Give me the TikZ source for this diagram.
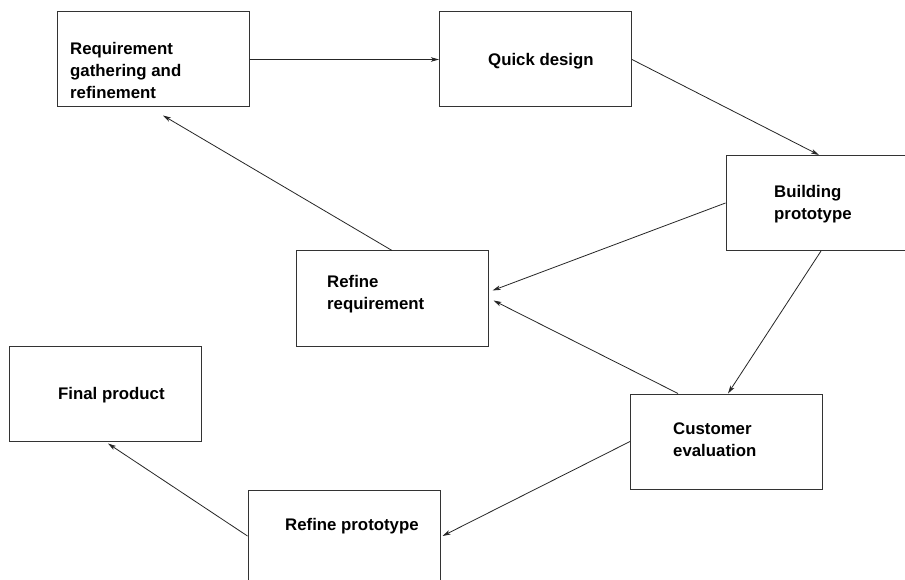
\documentclass[tikz,border=0pt]{standalone}
\usepackage{fontspec}
\setmainfont{Liberation Sans}
\usetikzlibrary{arrows.meta,calc}
\tikzset{
  box/.style={draw=black!80, line width=1pt, inner sep=0pt, minimum width=192pt, minimum height=95pt},
  lbl/.style={anchor=north west, inner sep=0pt, align=left, font=\fontsize{16.8}{22}\selectfont\bfseries},
  arr/.style={draw=black!85, line width=0.8pt, -{Stealth[length=8pt,width=4.5pt,inset=2pt]}}
}
\begin{document}
\begin{tikzpicture}[x=1pt,y=-1pt]
\useasboundingbox (0,0) rectangle (905,580);
\fill[white] (0,0) rectangle (905,580);
\clip (0,0) rectangle (905,580);
% boxes
\node[box] (req) at (153,59.5) {};
\node[box] (quick) at (535.5,59.5) {};
\node[box] (build) at (822,203) {};
\node[box] (refreq) at (392,298.5) {};
\node[box] (final) at (105.5,393.5) {};
\node[box] (cust) at (726.5,441.5) {};
\node[box] (refproto) at (344,538) {};
% labels
\node[lbl] (reqt) at (70,42) {Requirement\\gathering and\\refinement};
\node[lbl] (quickt) at (488,53) {Quick design};
\node[lbl] (buildt) at (774,185) {Building\\prototype};
\node[lbl] (refreqt) at (327,275) {Refine\\requirement};
\node[lbl] (finalt) at (58,387) {Final product};
\node[lbl] (custt) at (673,423) {Customer\\evaluation};
\node[lbl] (refprotot) at (285,518) {Refine prototype};
% connectors
\draw[arr] (req.east) -- (quick.west);
\draw[arr] (quick.east) -- ($(build.north)+(-3,0)$);
\draw[arr] (build.west) -- ($(refreq.east)+(4,-8)$);
\draw[arr] ($(cust.north west)+(48,0)$) -- ($(refreq.east)+(5,2)$);
\draw[arr] ($(build.south)+(-1,0)$) -- ($(cust.north)+(1.5,0)$);
\draw[arr] (refreq.north) -- ($(req.south)+(10,8)$);
\draw[arr] (cust.west) -- ($(refproto.east)+(2,-2)$);
\draw[arr] ($(refproto.west)+(0,-2)$) -- ($(final.south)+(2.5,2)$);
\end{tikzpicture}
\end{document}
